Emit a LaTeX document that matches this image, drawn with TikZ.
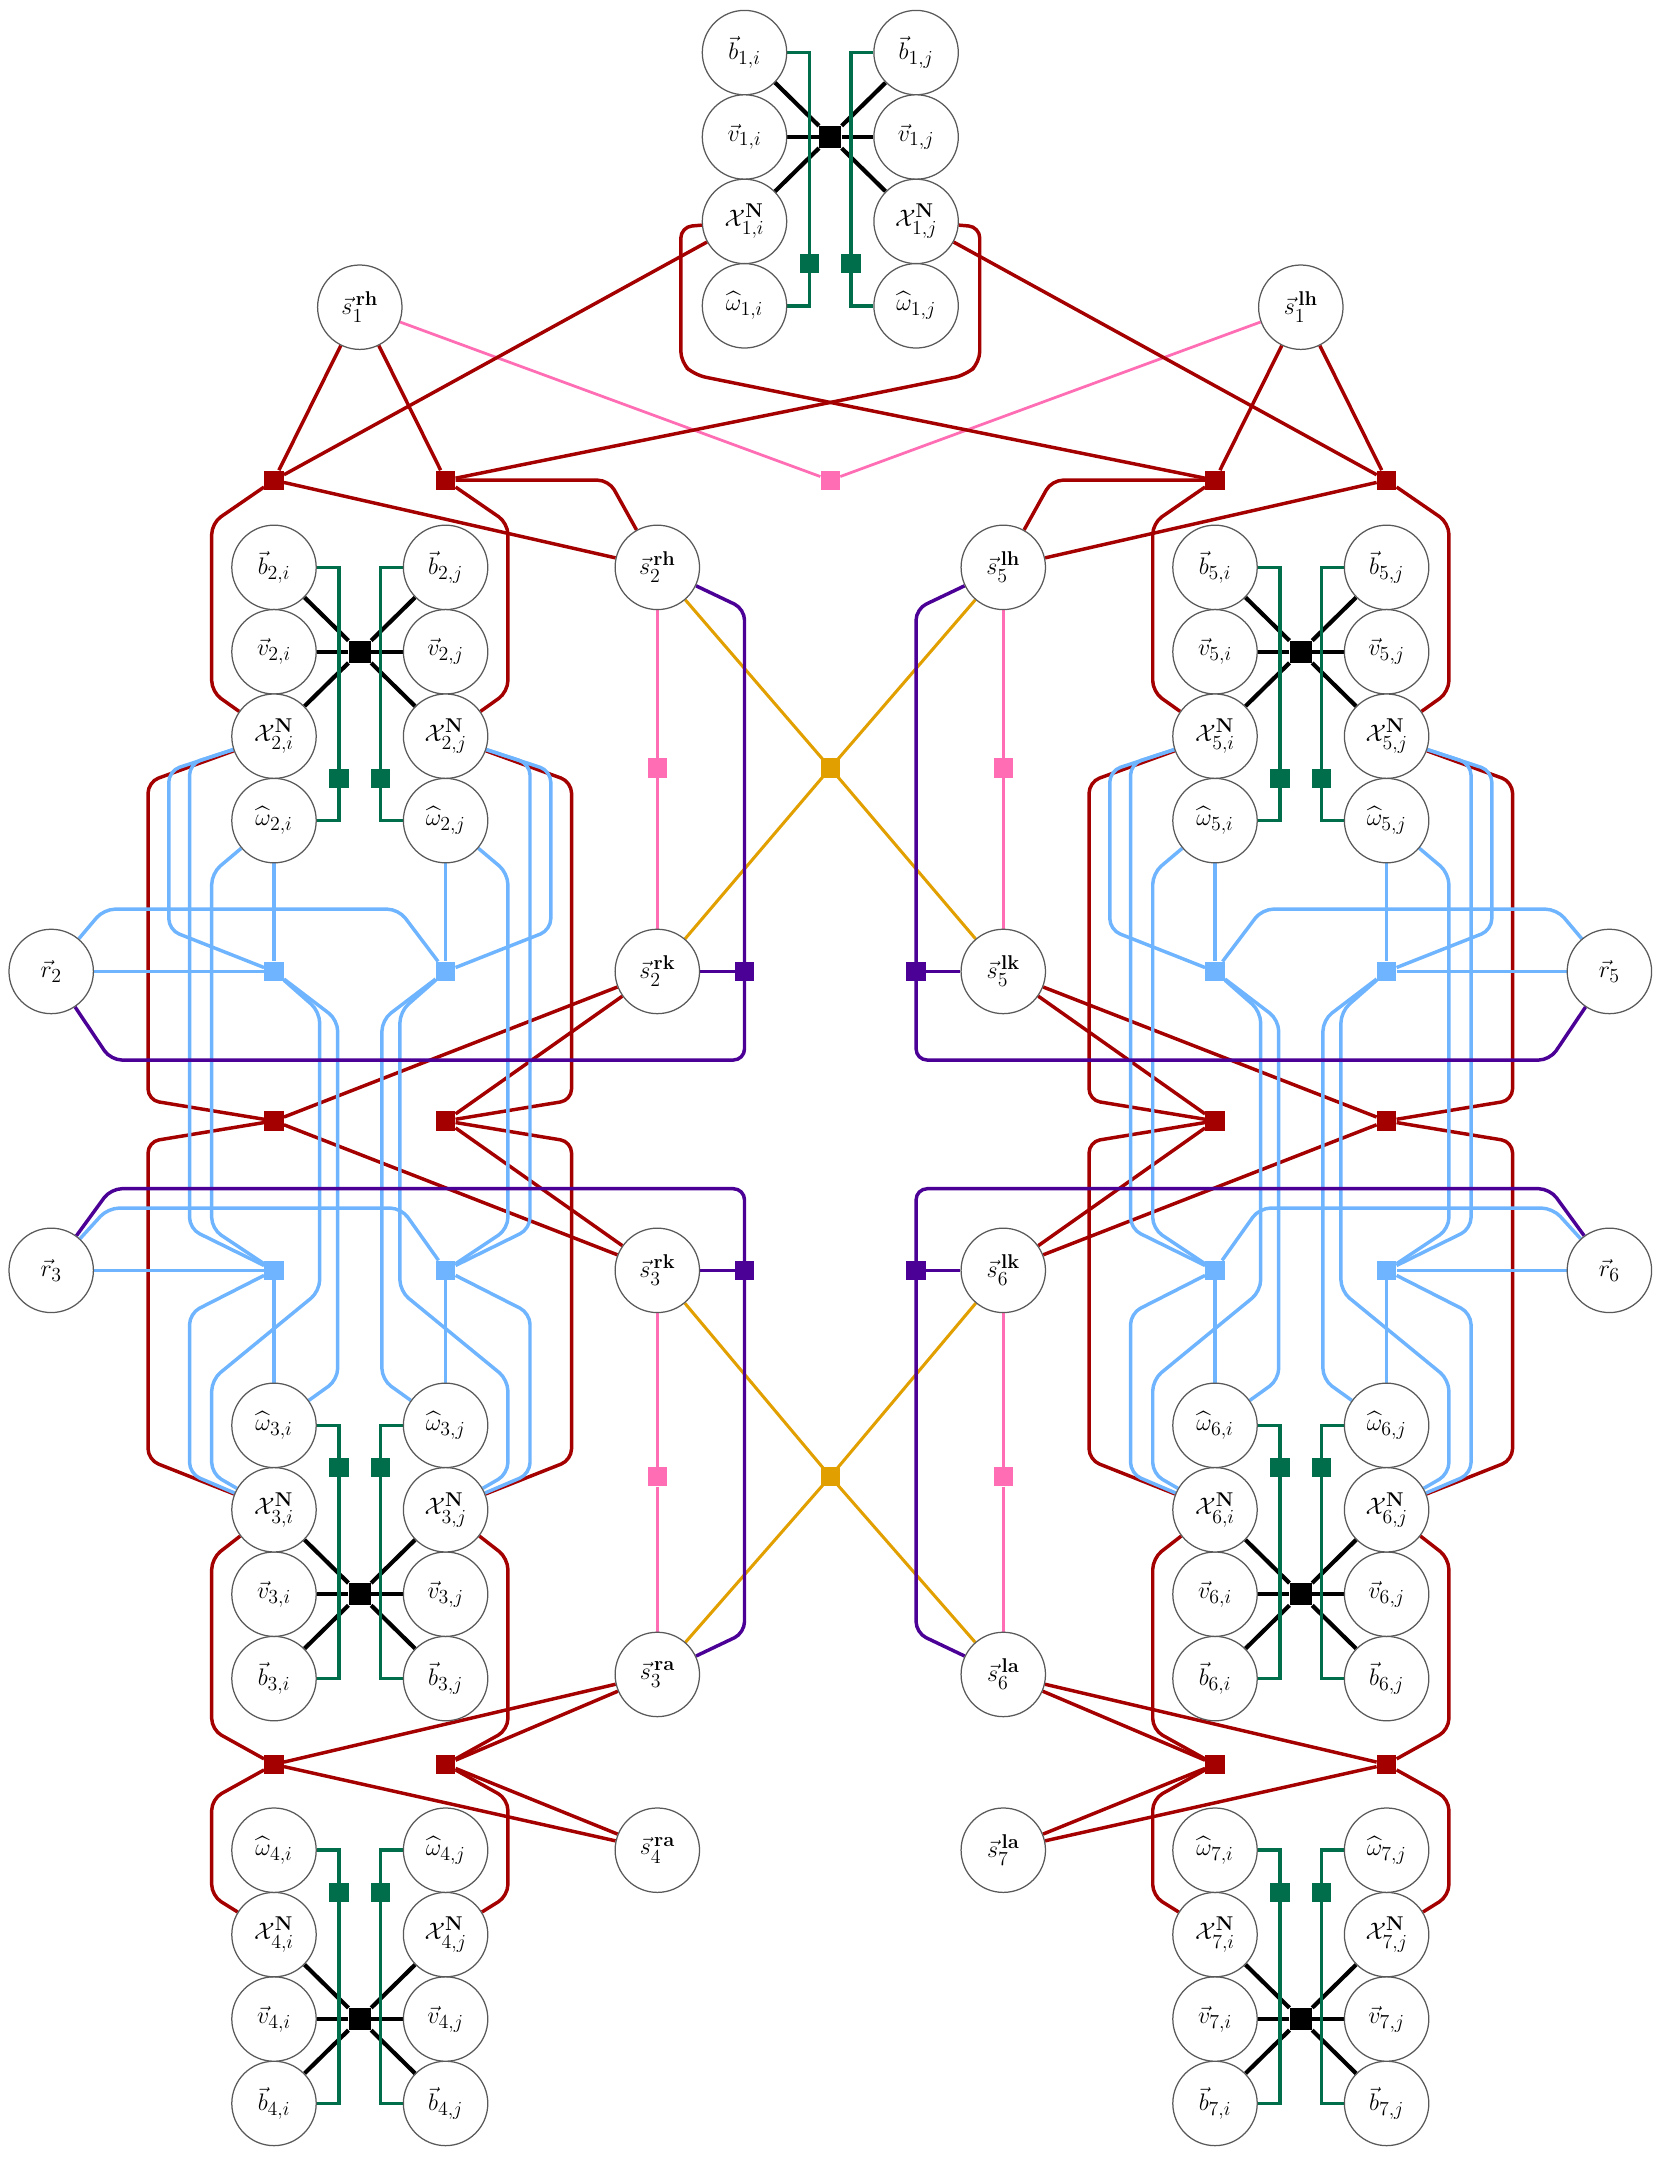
\documentclass[tikz,border=0pt]{standalone}
\usepackage{amsmath,amssymb}
\definecolor{cred}{RGB}{165,0,0}
\definecolor{cgreen}{RGB}{0,110,75}
\definecolor{cpink}{RGB}{255,110,180}
\definecolor{corange}{RGB}{225,160,0}
\definecolor{cpurple}{RGB}{75,0,150}
\definecolor{cblue}{RGB}{110,180,255}
\pgfdeclarelayer{bg}
\pgfsetlayers{bg,main}
\tikzset{
 var/.style={circle,draw=black!65,line width=0.9pt,fill=white,minimum size=61pt,inner sep=0pt,font=\fontsize{19}{22}\selectfont},
 fac/.style={rectangle,minimum size=14pt,inner sep=0pt},
 blk/.style={line width=3pt,black},
 grn/.style={line width=2.5pt,cgreen},
 redl/.style={line width=2.5pt,cred,rounded corners=8pt},
 bluel/.style={line width=2.5pt,cblue,rounded corners=8pt},
 pinkl/.style={line width=2pt,cpink},
 orl/.style={line width=2.2pt,corange},
 purl/.style={line width=2.5pt,cpurple,rounded corners=8pt},
}
\newcommand\cluster[6]{%
\node[var] (b#1i) at ({#2-62},#3) {$\vec{b}_{#1,i}$};
\node[var] (b#1j) at ({#2+62},#3) {$\vec{b}_{#1,j}$};
\node[var] (v#1i) at ({#2-62},#4) {$\vec{v}_{#1,i}$};
\node[var] (v#1j) at ({#2+62},#4) {$\vec{v}_{#1,j}$};
\node[var] (X#1i) at ({#2-62},#5) {$\mathcal{X}^{\mathbf{N}}_{#1,i}$};
\node[var] (X#1j) at ({#2+62},#5) {$\mathcal{X}^{\mathbf{N}}_{#1,j}$};
\node[var] (w#1i) at ({#2-62},#6) {$\widehat{\omega}_{#1,i}$};
\node[var] (w#1j) at ({#2+62},#6) {$\widehat{\omega}_{#1,j}$};
\node[fac,fill=black,minimum size=16pt] (k#1) at (#2,#4) {};
\node[fac,fill=cgreen] (g#1i) at ({#2-15},{(#5+#6)/2}) {};
\node[fac,fill=cgreen] (g#1j) at ({#2+15},{(#5+#6)/2}) {};
\begin{pgfonlayer}{bg}
\draw[blk] (k#1) -- (b#1i); \draw[blk] (k#1) -- (v#1i); \draw[blk] (k#1) -- (X#1i);
\draw[blk] (k#1) -- (b#1j); \draw[blk] (k#1) -- (v#1j); \draw[blk] (k#1) -- (X#1j);
\draw[grn] (b#1i.east) -- ({#2-15},#3) -- ({#2-15},#6) -- (w#1i.east);
\draw[grn] (b#1j.west) -- ({#2+15},#3) -- ({#2+15},#6) -- (w#1j.west);
\end{pgfonlayer}}
\newcommand\half[9]{%
\node[var] (s#2#1h) at (475,410) {$\vec{s}^{\,\mathbf{#1h}}_{#2}$};
\node[var] (s#2#1k) at (475,702) {$\vec{s}^{\,\mathbf{#1k}}_{#2}$};
\node[var] (s#3#1k) at (475,918) {$\vec{s}^{\,\mathbf{#1k}}_{#3}$};
\node[var] (s#3#1a) at (475,1210) {$\vec{s}^{\,\mathbf{#1a}}_{#3}$};
\node[var] (s#4#1a) at (475,1337) {$\vec{s}^{\,\mathbf{#1a}}_{#4}$};
\node[var] (r#2) at (37,702) {$\vec{r}_{#2}$};
\node[var] (r#3) at (37,918) {$\vec{r}_{#3}$};
\node[fac,fill=cred] (#1fa) at (198,347) {};
\node[fac,fill=cred] (#1fb) at (322,347) {};
\node[fac,fill=cred] (#1fc) at (198,810) {};
\node[fac,fill=cred] (#1fd) at (322,810) {};
\node[fac,fill=cred] (#1fe) at (198,1275) {};
\node[fac,fill=cred] (#1ff) at (322,1275) {};
\node[fac,fill=cblue] (#1qa) at (198,702) {};
\node[fac,fill=cblue] (#1qb) at (322,702) {};
\node[fac,fill=cblue] (#1qc) at (198,918) {};
\node[fac,fill=cblue] (#1qd) at (322,918) {};
\node[fac,fill=cpink] (#1pa) at (475,555) {};
\node[fac,fill=cpink] (#1pb) at (475,1067) {};
\node[fac,fill=cpurple] (#1ua) at (538,702) {};
\node[fac,fill=cpurple] (#1ub) at (538,918) {};
\begin{pgfonlayer}{bg}
\draw[redl] (#9) -- (#1fa); \draw[redl] (#9) -- (#1fb);
\draw[redl] (#7) -- (#1fa);
\draw[redl] (#8) -- (708,164) -- (708,262) -- (698,271) -- (#1fb);
\draw[redl] (#1fa) -- (s#2#1h);
\draw[redl] (#1fb) -- (440,347) -- (s#2#1h);
\draw[redl] (#1fa) -- (153,378) -- (153,500) -- (X#2#5);
\draw[redl] (#1fb) -- (367,378) -- (367,500) -- (X#2#6);
\draw[redl] (X#2#5) -- (107,565) -- (107,795) -- (#1fc);
\draw[redl] (#1fc) -- (107,825) -- (107,1055) -- (X#3#5);
\draw[redl] (X#2#6) -- (413,565) -- (413,795) -- (#1fd);
\draw[redl] (#1fd) -- (413,825) -- (413,1055) -- (X#3#6);
\draw[redl] (s#2#1k) -- (#1fc); \draw[redl] (s#2#1k) -- (#1fd);
\draw[redl] (s#3#1k) -- (#1fc); \draw[redl] (s#3#1k) -- (#1fd);
\draw[redl] (X#3#5) -- (153,1126) -- (153,1250) -- (#1fe);
\draw[redl] (#1fe) -- (153,1300) -- (153,1370) -- (X#4#5);
\draw[redl] (X#3#6) -- (367,1126) -- (367,1250) -- (#1ff);
\draw[redl] (#1ff) -- (367,1300) -- (367,1370) -- (X#4#6);
\draw[redl] (s#3#1a) -- (#1fe); \draw[redl] (s#3#1a) -- (#1ff);
\draw[redl] (s#4#1a) -- (#1fe); \draw[redl] (s#4#1a) -- (#1ff);
\draw[bluel] (X#2#5) -- (122,557) -- (122,672) -- (#1qa);
\draw[bluel] (X#2#5) -- (137,552) -- (137,888) -- (#1qc);
\draw[bluel] (w#2#5) -- (153,631) -- (153,888) -- (#1qc);
\draw[bluel] (w#2#5) -- (#1qa);
\draw[bluel] (r#2) -- (#1qa);
\draw[bluel] (r#2) -- (75,657) -- (288,657) -- (#1qb);
\draw[bluel] (#1qa) -- (231,731) -- (231,933) -- (153,997) -- (153,1065) -- (X#3#5);
\draw[bluel] (#1qa) -- (244,737) -- (244,997) -- (w#3#5);
\draw[bluel] (#1qc) -- (137,949) -- (137,1065) -- (X#3#5);
\draw[bluel] (w#3#5) -- (#1qc);
\draw[bluel] (r#3) -- (#1qc);
\draw[bluel] (r#3) -- (78,873) -- (290,873) -- (#1qd);
\draw[bluel] (X#2#6) -- (398,557) -- (398,672) -- (#1qb);
\draw[bluel] (X#2#6) -- (383,552) -- (383,888) -- (#1qd);
\draw[bluel] (w#2#6) -- (367,631) -- (367,888) -- (#1qd);
\draw[bluel] (w#2#6) -- (#1qb);
\draw[bluel] (#1qb) -- (289,731) -- (289,933) -- (367,997) -- (367,1065) -- (X#3#6);
\draw[bluel] (#1qb) -- (276,737) -- (276,997) -- (w#3#6);
\draw[bluel] (#1qd) -- (383,949) -- (383,1065) -- (X#3#6);
\draw[bluel] (w#3#6) -- (#1qd);
\draw[pinkl] (s#2#1h) -- (#1pa) -- (s#2#1k);
\draw[pinkl] (s#3#1k) -- (#1pb) -- (s#3#1a);
\draw[orl] (s#2#1h) -- (600,555); \draw[orl] (s#2#1k) -- (600,555);
\draw[orl] (s#3#1k) -- (600,1067); \draw[orl] (s#3#1a) -- (600,1067);
\draw[purl] (s#2#1h) -- (538,440) -- (538,766) -- (80,766) -- (r#2);
\draw[purl] (s#2#1k) -- (#1ua);
\draw[purl] (s#3#1a) -- (538,1180) -- (538,859) -- (80,859) -- (r#3);
\draw[purl] (s#3#1k) -- (#1ub);
\end{pgfonlayer}}
\begin{document}
\begin{tikzpicture}[x=1pt,y=-1pt]
\useasboundingbox (0,0) rectangle (1200,1571);
\cluster{1}{600}{38}{99}{160}{221}
\cluster{2}{260}{410}{471}{532}{593}
\cluster{3}{260}{1213}{1152}{1091}{1030}
\cluster{4}{260}{1520}{1459}{1398}{1337}
\cluster{5}{940}{410}{471}{532}{593}
\cluster{6}{940}{1213}{1152}{1091}{1030}
\cluster{7}{940}{1520}{1459}{1398}{1337}
\node[var] (s1r) at (260,222) {$\vec{s}^{\,\mathbf{rh}}_{1}$};
\node[var] (s1l) at (940,222) {$\vec{s}^{\,\mathbf{lh}}_{1}$};
\node[fac,fill=cpink] (ptop) at (600,347) {};
\node[fac,fill=corange] (oa) at (600,555) {};
\node[fac,fill=corange] (ob) at (600,1067) {};
\begin{pgfonlayer}{bg}
\draw[pinkl] (s1r) -- (ptop) -- (s1l);
\end{pgfonlayer}
\half{r}{2}{3}{4}{i}{j}{X1i}{X1j}{s1r}
\begin{scope}[cm={-1,0,0,1,(1200,0)}]
\half{l}{5}{6}{7}{j}{i}{X1j}{X1i}{s1l}
\end{scope}
\end{tikzpicture}
\end{document}
